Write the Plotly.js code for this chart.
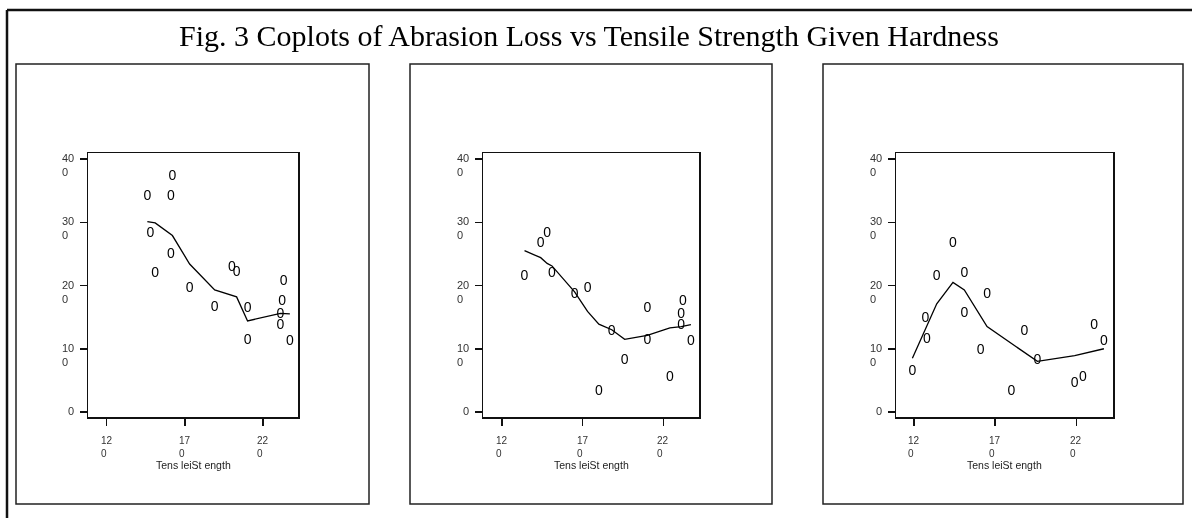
<!DOCTYPE html>
<html>
<head>
<meta charset="utf-8">
<script src="https://cdn.plot.ly/plotly-3.0.1.min.js"></script>
<style>html,body{margin:0;padding:0;background:#fff;}#chart{width:1192px;height:518px;filter:grayscale(100%);}</style>
</head>
<body>
<div id="chart"></div>
<script>
// Rubber data: tensile strength, abrasion loss, hardness
const tensile  = [162,233,232,231,231,237,224,219,203,189,210,210,196,180,200,173,188,161,119,161,151,165,151,128,161,146,148,144,134,127];
const abrasion = [372,206,175,154,136,112,55,45,221,166,164,113,82,32,228,196,128,97,64,249,219,186,155,114,341,340,283,267,215,148];
const hardness = [45,55,61,66,71,71,81,86,53,60,64,68,79,81,56,68,75,83,88,59,71,80,82,89,51,59,65,74,81,86];

// Given-hardness intervals for the three panels
const hardLo = [45, 61, 71];
const hardHi = [71, 81, 89];

// Smooth curves
const smoothX1 = [146,151,162,173,189,203,210,231,237];
const smoothY1 = [301,299,279,234,193,182,144,156,155];
const smoothX2 = [134,144,148,151,165,173,180,188,196,210,224,231,237];
const smoothY2 = [255,244,235,231,190,159,139,130,115,121,133,135,138];
const smoothX3 = [119,127,134,144,151,165,188,196,219,231,237];
const smoothY3 = [85,132,171,205,193,135,94,80,89,96,100];
const smoothX = [smoothX1, smoothX2, smoothX3];
const smoothY = [smoothY1, smoothY2, smoothY3];

// Tick labels
const yTickVals = [0,100,200,300,400];
const yTickText = ["0","10<br>0","20<br>0","30<br>0","40<br>0"];
const xTickVals = [120,170,220];
const xTickText = ["12<br>0","17<br>0","22<br>0"];
const xTitle = "Tens leiSt ength";
const mainTitle = "Fig. 3 Coplots of Abrasion Loss vs Tensile Strength Given Hardness";

const W = 1192, H = 518;
const px = v => v / W;
const py = v => 1 - v / H;

// plot area pixel geometry
const plotL = [88, 483, 896];
const plotR = [298, 699, 1113];
const plotT = 153, plotB = 417;
const xRanges = [[108.1,242.2],[108.3,242.0],[108.9,242.6]];
const yRange = [-7.9, 409.5];
const boxes = [[16,369],[410,772],[823,1183]];

const traces = [];
const layout = {
  width: W, height: H,
  margin: {l:0, r:0, t:0, b:0},
  paper_bgcolor: '#fff', plot_bgcolor: '#fff',
  showlegend: false,
  font: {family: 'Liberation Sans, Arial, sans-serif', color: '#222', size: 11},
  title: {text: mainTitle, x: px(589), xanchor: 'center', y: py(35), yanchor: 'middle', yref: 'paper',
          font: {family: 'Liberation Serif, Times New Roman, serif', size: 30, color: '#000'}},
  annotations: [],
  shapes: []
};

// outer frame (top and left)
layout.shapes.push({type:'line', xref:'paper', yref:'paper', x0:px(7), x1:1, y0:py(10), y1:py(10), line:{color:'#111', width:2.5}});
layout.shapes.push({type:'line', xref:'paper', yref:'paper', x0:px(7), x1:px(7), y0:py(10), y1:0, line:{color:'#111', width:2.5}});

for (let p = 0; p < 3; p++) {
  const xs = [], ys = [], ts = [];
  for (let i = 0; i < tensile.length; i++) {
    if (hardness[i] >= hardLo[p] && hardness[i] <= hardHi[p]) {
      xs.push(tensile[i]); ys.push(abrasion[i]); ts.push('0');
    }
  }
  const xa = p === 0 ? 'x' : 'x' + (p+1);
  const ya = p === 0 ? 'y' : 'y' + (p+1);
  traces.push({x: xs, y: ys, text: ts, mode: 'text', type: 'scatter', xaxis: xa, yaxis: ya,
               textposition: 'middle center', textfont: {family: 'Liberation Sans, Arial, sans-serif', size: 14, color: '#000'},
               hoverinfo: 'skip'});
  traces.push({x: smoothX[p], y: smoothY[p], mode: 'lines', type: 'scatter', xaxis: xa, yaxis: ya,
               line: {color: '#000', width: 1.3}, hoverinfo: 'skip'});

  const axKeyX = p === 0 ? 'xaxis' : 'xaxis' + (p+1);
  const axKeyY = p === 0 ? 'yaxis' : 'yaxis' + (p+1);
  layout[axKeyX] = {
    domain: [px(plotL[p]), px(plotR[p])], anchor: ya, range: xRanges[p],
    showgrid: false, zeroline: false, showline: true, mirror: true, linecolor: '#111', linewidth: 1.5,
    ticks: 'outside', ticklen: 7, tickwidth: 1.5, tickcolor: '#111',
    tickvals: xTickVals, showticklabels: false, fixedrange: true
  };
  layout[axKeyY] = {
    domain: [py(plotB), py(plotT)], anchor: xa, range: yRange,
    showgrid: false, zeroline: false, showline: true, mirror: true, linecolor: '#111', linewidth: 1.5,
    ticks: 'outside', ticklen: 7, tickwidth: 1.5, tickcolor: '#111',
    tickvals: yTickVals, showticklabels: false, fixedrange: true
  };

  // y tick labels
  for (let k = 0; k < yTickVals.length; k++) {
    layout.annotations.push({
      xref: 'paper', yref: ya, x: px(plotL[p]), y: yTickVals[k], xshift: -12,
      xanchor: 'right', yanchor: 'top', yshift: 9, align: 'left', showarrow: false,
      text: yTickText[k], font: {size: 11, color: '#333'}
    });
  }
  // x tick labels
  for (let k = 0; k < xTickVals.length; k++) {
    layout.annotations.push({
      xref: xa, yref: 'paper', x: xTickVals[k], y: py(plotB), yshift: -16,
      xanchor: 'center', yanchor: 'top', align: 'left', showarrow: false,
      text: xTickText[k], font: {size: 10, color: '#333'}
    });
  }
  // x title
  layout.annotations.push({
    xref: 'paper', yref: 'paper', x: (px(plotL[p]) + px(plotR[p]))/2, y: py(465),
    xanchor: 'center', yanchor: 'middle', showarrow: false,
    text: xTitle, font: {size: 10.5, color: '#222'}
  });
  // panel box
  layout.shapes.push({type:'rect', xref:'paper', yref:'paper', x0:px(boxes[p][0]), x1:px(boxes[p][1]), y0:py(504), y1:py(64),
                      line:{color:'#222', width:1.5}});
}

Plotly.newPlot('chart', traces, layout, {staticPlot: true, displayModeBar: false});
</script>
</body>
</html>
